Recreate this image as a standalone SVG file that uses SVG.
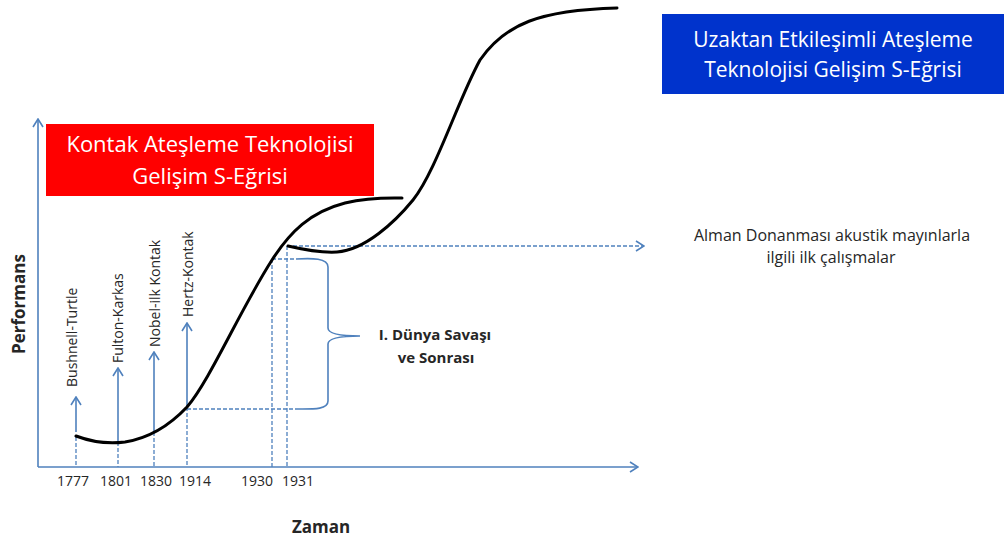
<svg xmlns="http://www.w3.org/2000/svg" width="1006" height="545" viewBox="0 0 1006 545">
<style>
.ax{stroke:#4F81BD;stroke-width:1.6;fill:none}
.ds{stroke:#4F81BD;stroke-width:1.3;fill:none;stroke-dasharray:4 2}
.cv{stroke:#000;stroke-width:3;fill:none;stroke-linecap:round;stroke-linejoin:round}
.t{font-family:"Open Sans","Noto Sans",sans-serif;fill:#262626}
.b{font-weight:bold}
.w{font-family:"Open Sans","Noto Sans",sans-serif;fill:#fff;text-anchor:middle}
</style>
<defs>
<marker id="ah" viewBox="0 0 10 12" refX="9" refY="6" markerWidth="10" markerHeight="12" markerUnits="userSpaceOnUse" orient="auto">
<path d="M1,1 L9,6 L1,11" fill="none" stroke="#4F81BD" stroke-width="1.6"/>
</marker>
</defs>
<rect width="1006" height="545" fill="#fff"/>

<g id="connectors">
<line class="ax" x1="38" y1="467" x2="38" y2="119" marker-end="url(#ah)"/>
<line class="ax" x1="38" y1="467" x2="638" y2="467" marker-end="url(#ah)"/>
<line class="ax" x1="76" y1="432" x2="76" y2="397" marker-end="url(#ah)"/>
<line class="ax" x1="118" y1="442" x2="118" y2="368" marker-end="url(#ah)"/>
<line class="ax" x1="154" y1="432" x2="154" y2="352" marker-end="url(#ah)"/>
<line class="ax" x1="187" y1="407" x2="187" y2="323" marker-end="url(#ah)"/>
<line class="ds" x1="76" y1="437" x2="76" y2="467"/>
<line class="ds" x1="118" y1="442" x2="118" y2="467"/>
<line class="ds" x1="154" y1="432" x2="154" y2="467"/>
<line class="ds" x1="187" y1="407" x2="187" y2="467"/>
<line class="ds" x1="272" y1="259" x2="272" y2="467"/>
<line class="ds" x1="287" y1="246" x2="287" y2="467"/>
<line class="ds" x1="272" y1="259" x2="296" y2="259"/>
<line class="ds" x1="187" y1="409" x2="296" y2="409"/>
<line class="ds" x1="287" y1="246" x2="644" y2="246" marker-end="url(#ah)"/>
<path class="ax" d="M296,259 C312,258 328,258 328,267 L328,328 C328,334 340,336 360,336 C340,336 328,338 328,344 L328,401 C328,410 312,409 296,409"/>
</g>

<g id="curves">
<path class="cv" d="M76,436 C92,442 110,444 125,442 C150,438 170,425 187,407 C210,380 240,310 272,260 C290,232 310,212 345,203 C370,197 390,198 402,198"/>
<path class="cv" d="M288,246 C305,250 320,253 337,252 C365,250 395,222 413,200 C436,171 458,100 480,60 C505,24 540,10 617,8"/>
</g>

<g id="kontak-box">
<rect x="46" y="124" width="328" height="72" fill="#FF0000"/>
<text class="w" font-size="22" x="210" y="152">Kontak Ateşleme Teknolojisi</text>
<text class="w" font-size="22" x="210" y="184">Gelişim S-Eğrisi</text>
</g>

<g id="uzaktan-box">
<rect x="662" y="14" width="342" height="80" fill="#0033CC"/>
<text class="w" font-size="21" x="833" y="47">Uzaktan Etkileşimli Ateşleme</text>
<text class="w" font-size="21" x="833" y="77">Teknolojisi Gelişim S-Eğrisi</text>
</g>

<g id="axis-labels">
<text class="t b" font-size="17" text-anchor="middle" transform="translate(25,304) rotate(-90)">Performans</text>
<text class="t b" font-size="17" text-anchor="middle" x="321" y="533">Zaman</text>
</g>

<g id="year-labels" class="t" font-size="14" text-anchor="middle">
<text x="73" y="486">1777</text>
<text x="116" y="486">1801</text>
<text x="156" y="486">1830</text>
<text x="195" y="486">1914</text>
<text x="257" y="486">1930</text>
<text x="298" y="486">1931</text>
</g>

<g id="event-labels" class="t" font-size="14">
<text transform="translate(77,387) rotate(-90)">Bushnell-Turtle</text>
<text transform="translate(123,363) rotate(-90)">Fulton-Karkas</text>
<text transform="translate(160,347) rotate(-90)">Nobel-ilk Kontak</text>
<text transform="translate(193,317) rotate(-90)">Hertz-Kontak</text>
</g>

<g id="war-label" class="t b" font-size="15" text-anchor="middle">
<text x="435" y="340">I. Dünya Savaşı</text>
<text x="436" y="363">ve Sonrası</text>
</g>

<g id="alman-label" class="t" font-size="16" text-anchor="middle">
<text x="832" y="241">Alman Donanması akustik mayınlarla</text>
<text x="831" y="263">ilgili ilk çalışmalar</text>
</g>
</svg>
